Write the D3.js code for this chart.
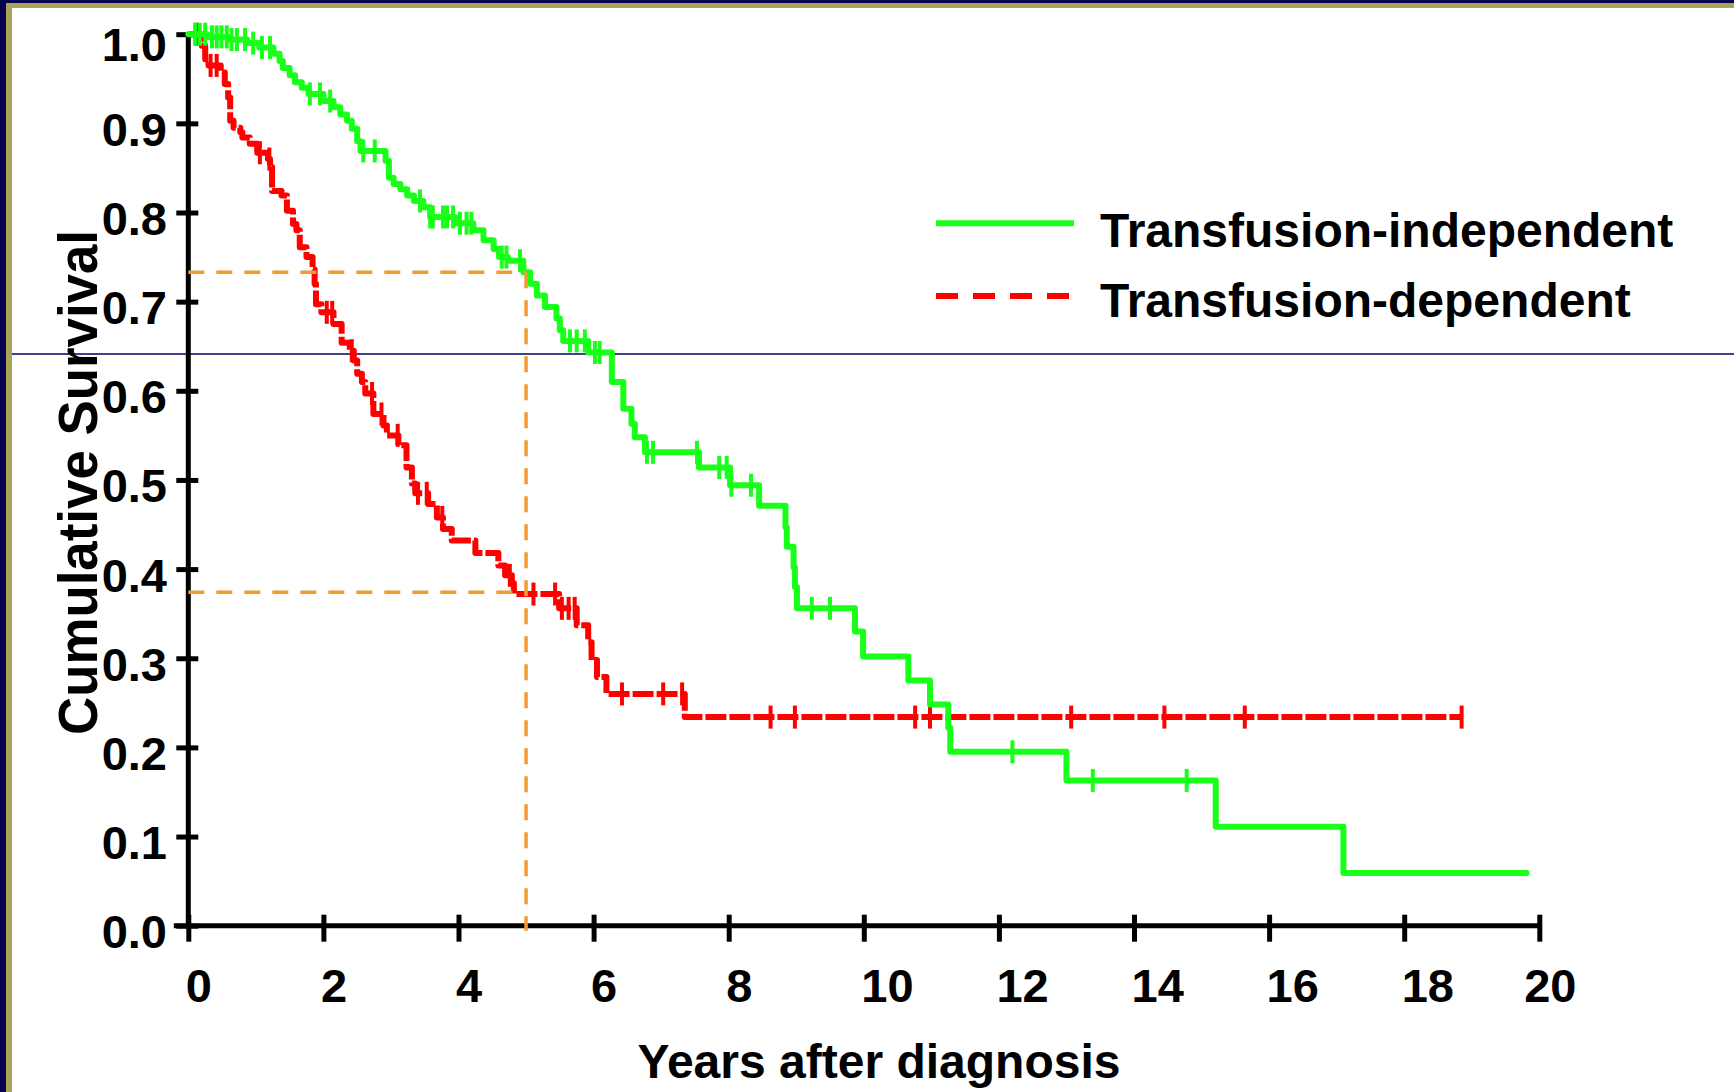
<!DOCTYPE html>
<html>
<head>
<meta charset="utf-8">
<title>Cumulative Survival</title>
<script src="https://cdn.jsdelivr.net/npm/d3@7"></script>
<style>
  html, body { margin: 0; padding: 0; background: #ffffff; }
  svg { display: block; }
  text { font-family: "Liberation Sans", Arial, Helvetica, sans-serif; font-weight: bold; fill: #000; }
</style>
</head>
<body>
<svg id="chart" width="1734" height="1092"></svg>
<script>
// Axis ticks
const yearTicks = [0, 2, 4, 6, 8, 10, 12, 14, 16, 18, 20];
const survivalTicks = [0, 0.1, 0.2, 0.3, 0.4, 0.5, 0.6, 0.7, 0.8, 0.9, 1.0];

// Series names
const seriesNames = ["Transfusion-independent", "Transfusion-dependent"];

// Kaplan-Meier steps, transfusion-independent: [years, survival after the step]
const independentSteps = [
  [0, 1.000], [0.28, 0.997], [0.60, 0.994], [0.87, 0.990], [1.05, 0.985], [1.26, 0.978],
  [1.35, 0.970], [1.40, 0.962], [1.50, 0.954], [1.58, 0.946], [1.68, 0.940], [1.78, 0.933],
  [2.00, 0.925], [2.15, 0.918], [2.25, 0.910], [2.35, 0.903], [2.42, 0.894], [2.50, 0.880],
  [2.55, 0.869], [2.92, 0.858], [2.97, 0.839], [3.04, 0.832], [3.14, 0.826], [3.24, 0.819],
  [3.34, 0.813], [3.48, 0.806], [3.58, 0.795], [3.95, 0.788], [4.22, 0.780], [4.37, 0.769],
  [4.52, 0.759], [4.60, 0.750], [4.73, 0.746], [4.96, 0.733], [5.06, 0.720], [5.16, 0.707],
  [5.28, 0.694], [5.45, 0.681], [5.50, 0.668], [5.55, 0.656], [5.92, 0.643], [6.27, 0.610],
  [6.44, 0.580], [6.56, 0.563], [6.61, 0.548], [6.76, 0.531], [7.56, 0.514], [8.02, 0.494],
  [8.45, 0.471], [8.84, 0.447], [8.86, 0.425], [8.96, 0.402], [8.98, 0.380], [9.01, 0.356],
  [9.87, 0.330], [9.99, 0.302], [10.66, 0.275], [10.98, 0.248], [11.25, 0.222], [11.28, 0.195],
  [13.00, 0.163], [15.21, 0.111], [17.10, 0.059]
];
const independentEnd = 19.81;
const independentCensored = [
  0.10, 0.17, 0.25, 0.35, 0.42, 0.49, 0.57, 0.64, 0.72, 0.84, 0.96, 1.09, 1.21,
  1.80, 1.95, 2.10, 2.59, 2.76, 3.43, 3.58, 3.62, 3.77, 3.83, 3.92, 4.02, 4.12, 4.19,
  4.64, 4.71, 4.91, 5.65, 5.75, 5.87, 6.02, 6.09, 6.79, 6.88, 7.53, 7.86, 7.97, 8.04,
  8.33, 9.23, 9.50, 12.20, 13.39, 14.78
];

// Kaplan-Meier steps, transfusion-dependent
const dependentSteps = [
  [0, 1.000], [0.20, 0.987], [0.25, 0.972], [0.30, 0.965], [0.48, 0.957], [0.54, 0.944],
  [0.59, 0.929], [0.62, 0.903], [0.67, 0.895], [0.77, 0.890], [0.80, 0.884], [0.91, 0.877],
  [1.02, 0.867], [1.18, 0.860], [1.21, 0.851], [1.24, 0.824], [1.38, 0.819], [1.46, 0.802],
  [1.55, 0.787], [1.60, 0.780], [1.65, 0.761], [1.75, 0.750], [1.84, 0.736], [1.87, 0.720],
  [1.89, 0.697], [1.97, 0.688], [2.15, 0.675], [2.27, 0.654], [2.39, 0.645], [2.45, 0.634],
  [2.50, 0.619], [2.57, 0.610], [2.62, 0.597], [2.74, 0.574], [2.89, 0.561], [2.94, 0.550],
  [3.11, 0.539], [3.23, 0.514], [3.31, 0.496], [3.36, 0.485], [3.55, 0.473], [3.68, 0.458],
  [3.77, 0.445], [3.90, 0.432], [4.25, 0.418], [4.59, 0.404], [4.69, 0.393], [4.79, 0.384],
  [4.82, 0.372], [5.49, 0.356], [5.75, 0.337], [5.92, 0.318], [5.97, 0.298], [6.05, 0.279],
  [6.19, 0.260], [7.35, 0.234]
];
const dependentEnd = 18.85;
const dependentCensored = [
  0.12, 0.33, 0.42, 1.06, 1.20, 2.05, 2.13, 2.42, 2.72, 2.86, 3.10, 3.40, 3.53, 3.76,
  4.76, 5.11, 5.43, 5.53, 5.63, 5.72, 6.42, 7.03, 7.31, 8.62, 8.98, 10.76, 10.98,
  13.07, 14.45, 15.64, 18.85
];

// Five-year survival guide lines
const fiveYearMarks = [
  { t: 5, s: 0.733 },
  { t: 5, s: 0.374 }
];

const W = 1734, H = 1092;
const svg = d3.select("#chart");

// Slide frame: navy edge, gold rule, white page
svg.append("rect").attr("x", 0).attr("y", 0).attr("width", W).attr("height", H).attr("fill", "#04044f");
svg.append("rect").attr("x", 6).attr("y", 3).attr("width", W - 6).attr("height", H - 3).attr("fill", "#a9a35a");
svg.append("rect").attr("x", 12).attr("y", 8).attr("width", W - 12).attr("height", H - 8).attr("fill", "#ffffff");

// Scales
const x = d3.scaleLinear().domain([0, 20]).range([188.3, 1539.3]);
const y = d3.scaleLinear().domain([0, 1]).range([925.7, 34.2]);

// Thin slide guide rule across the page
svg.append("line")
  .attr("x1", 12).attr("x2", W).attr("y1", 354).attr("y2", 354)
  .attr("stroke", "#000066").attr("stroke-width", 1.3);

// Axes
const axisW = 5;
const gy = svg.append("g")
  .attr("transform", `translate(${x(0)},0)`)
  .call(d3.axisLeft(y).tickValues(survivalTicks).tickSizeOuter(0).tickFormat(d3.format(".1f")));
gy.select(".domain").attr("stroke", "#000").attr("stroke-width", axisW).attr("d", `M0,${y(1)}V${y(0)}`);
gy.selectAll(".tick line").attr("stroke", "#000").attr("stroke-width", axisW).attr("x1", -12).attr("x2", 10);
gy.selectAll(".tick text")
  .attr("x", -21.3).attr("dy", null)
  .attr("text-anchor", "end")
  .attr("font-size", 47)
  .attr("y", d => Math.max(22, 60 - y(d)));

const gx = svg.append("g")
  .attr("transform", `translate(0,${y(0)})`)
  .call(d3.axisBottom(x).tickValues(yearTicks).tickSizeOuter(0).tickFormat(d3.format("d")));
gx.select(".domain").attr("stroke", "#000").attr("stroke-width", axisW)
  .attr("d", `M${x(0) - 14.5},0H${x(20) + 2.5}`);
gx.selectAll(".tick line").attr("stroke", "#000").attr("stroke-width", axisW).attr("y1", -11).attr("y2", 16);
gx.selectAll(".tick text")
  .attr("dy", null)
  .attr("y", 1002 - y(0))
  .attr("x", -3)
  .attr("text-anchor", "start")
  .attr("font-size", 47);
// keep the last year label inside the page margin
gx.selectAll(".tick").each(function (d) {
  const t = d3.select(this).select("text");
  const w = t.node().getComputedTextLength();
  const right = x(d) - 3 + w;
  if (right > 1576) t.attr("x", -3 - (right - 1576));
});
[gx, gy].forEach(g => g.attr("font-family", null).attr("font-size", null));

// Axis titles
svg.append("text")
  .attr("x", 879).attr("y", 1078)
  .attr("text-anchor", "middle")
  .attr("font-size", 48)
  .text("Years after diagnosis");

svg.append("text")
  .attr("transform", "translate(96.5,482.5) rotate(-90)")
  .attr("text-anchor", "middle")
  .attr("font-size", 55)
  .attr("textLength", 505)
  .attr("lengthAdjust", "spacingAndGlyphs")
  .text("Cumulative Survival");

// Survival curves
const stepLine = d3.line()
  .x(d => x(d[0]))
  .y(d => y(d[1]))
  .curve(d3.curveStepAfter);

function withEnd(steps, end) {
  return steps.concat([[end, steps[steps.length - 1][1]]]);
}
function survivalAt(steps, t) {
  let s = steps[0][1];
  for (const st of steps) { if (st[0] <= t) s = st[1]; else break; }
  return s;
}

const curves = [
  { steps: dependentSteps, end: dependentEnd, censored: dependentCensored, color: "#ff0000", dash: "21,3", cap: "butt" },
  { steps: independentSteps, end: independentEnd, censored: independentCensored, color: "#19ff19", dash: null, cap: "round" }
];

curves.forEach(c => {
  const g = svg.append("g");
  g.append("path")
    .datum(withEnd(c.steps, c.end))
    .attr("d", stepLine)
    .attr("fill", "none")
    .attr("stroke", c.color)
    .attr("stroke-width", 6)
    .attr("stroke-linejoin", "round")
    .attr("stroke-linecap", c.cap)
    .attr("stroke-dasharray", c.dash);
  g.selectAll("line.censor")
    .data(c.censored)
    .join("line")
    .attr("class", "censor")
    .attr("x1", d => x(d)).attr("x2", d => x(d))
    .attr("y1", d => y(survivalAt(c.steps, d)) - 11.5)
    .attr("y2", d => y(survivalAt(c.steps, d)) + 11.5)
    .attr("stroke", c.color)
    .attr("stroke-width", 4);
});

// Five-year reference lines
const guide = svg.append("g")
  .attr("stroke", "#f39b30")
  .attr("stroke-width", 3.5)
  .attr("stroke-dasharray", "16,12")
  .attr("fill", "none");
guide.selectAll("line.h")
  .data(fiveYearMarks)
  .join("line")
  .attr("class", "h")
  .attr("x1", x(0)).attr("x2", d => x(d.t))
  .attr("y1", d => y(d.s)).attr("y2", d => y(d.s));
guide.append("line")
  .attr("x1", x(5)).attr("x2", x(5))
  .attr("y1", y(d3.max(fiveYearMarks, d => d.s)))
  .attr("y2", y(0) + 5);

// Legend
const legend = svg.append("g");
const legendRows = [
  { name: seriesNames[0], color: "#19ff19", dash: null, ly: 223.3, ty: 246.7, x2: 1074 },
  { name: seriesNames[1], color: "#ff0000", dash: "22,15", ly: 296, ty: 316.7, x2: 1070 }
];
legendRows.forEach(r => {
  legend.append("line")
    .attr("x1", 936).attr("x2", r.x2).attr("y1", r.ly).attr("y2", r.ly)
    .attr("stroke", r.color).attr("stroke-width", 6)
    .attr("stroke-dasharray", r.dash);
  legend.append("text")
    .attr("x", 1100).attr("y", r.ty)
    .attr("font-size", 48)
    .text(r.name);
});
</script>
</body>
</html>
